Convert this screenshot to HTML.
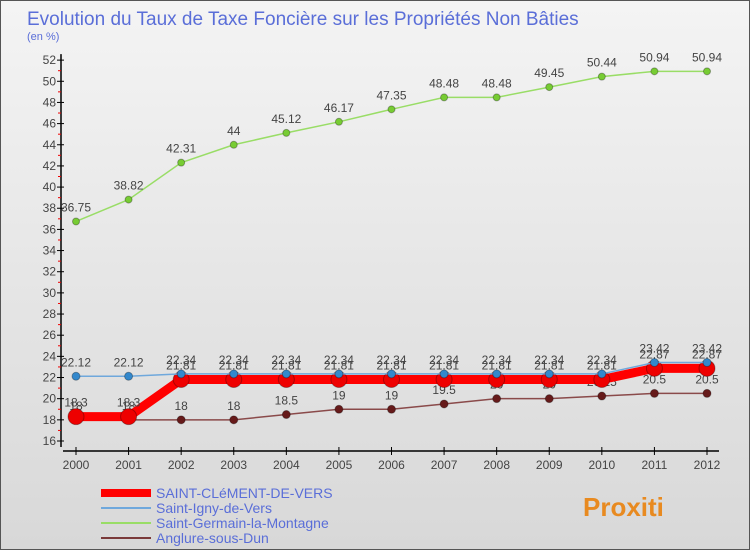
<!DOCTYPE html>
<html><head><meta charset="utf-8"><style>
body{margin:0}
#c{width:750px;height:550px;position:relative;background:linear-gradient(180deg,#f4f4f4,#d8d8d8);font-family:"Liberation Sans",sans-serif;overflow:hidden;border:1px solid #555;box-sizing:border-box}
</style></head><body>
<div id="c">
<svg id="s" width="750" height="550" style="position:absolute;left:0;top:0">
<text x="26" y="24" font-size="19" fill="#5a6ed8">Evolution du Taux de Taxe Foncière sur les Propriétés Non Bâties</text>
<text x="26" y="39" font-size="11" fill="#5a6ed8">(en %)</text>
</svg>
</div>
<script>
const years=[2000,2001,2002,2003,2004,2005,2006,2007,2008,2009,2010,2011,2012];
const yTicks=[16,18,20,22,24,26,28,30,32,34,36,38,40,42,44,46,48,50,52];
const sClement=[18.3,18.3,21.81,21.81,21.81,21.81,21.81,21.81,21.81,21.81,21.81,22.87,22.87];
const sIgny=[22.12,22.12,22.34,22.34,22.34,22.34,22.34,22.34,22.34,22.34,22.34,23.42,23.42];
const sGermain=[36.75,38.82,42.31,44,45.12,46.17,47.35,48.48,48.48,49.45,50.44,50.94,50.94];
const sAnglure=[18,18,18,18,18.5,19,19,19.5,20,20,20.25,20.5,20.5];
const names=["SAINT-CLéMENT-DE-VERS","Saint-Igny-de-Vers","Saint-Germain-la-Montagne","Anglure-sous-Dun"];
const NS="http://www.w3.org/2000/svg",svg=document.getElementById('s');
const X=y=>75+(y-2000)*(631/12);
const Y=v=>440-(v-16)*10.58;
function el(t,a,p){const e=document.createElementNS(NS,t);for(const k in a)e.setAttribute(k,a[k]);(p||svg).appendChild(e);return e;}
let ax=el('line',{x1:60,y1:Y(16)+6,x2:60,y2:Y(52)-6,stroke:'#000','stroke-width':1.5});

for(let v=16;v<=52;v++){if(v%2){const t=el('line',{x1:57,x2:60,y1:Y(v),y2:Y(v),stroke:'#e00'});}}
yTicks.forEach(v=>{const t=el('line',{x1:56,x2:63,y1:Y(v),y2:Y(v),stroke:'#000'});
const l=el('text',{x:55,y:Y(v)+4,'text-anchor':'end','font-size':12,fill:'#444'});l.textContent=v;});
let xa=el('line',{x1:62,x2:718,y1:450,y2:450,stroke:'#000','stroke-width':1.5});

years.forEach(y=>{const t=el('line',{x1:X(y),x2:X(y),y1:446,y2:454,stroke:'#000'});
const l=el('text',{x:X(y),y:468,'text-anchor':'middle','font-size':12,fill:'#444'});l.textContent=y;});
function series(data,color,w,r,name,fill){
 const g=el('g',{});
 el('polyline',{points:data.map((v,i)=>X(years[i])+','+Y(v)).join(' '),fill:'none',stroke:color,'stroke-width':w},g);
 data.forEach((v,i)=>{const c=el('circle',{cx:X(years[i]),cy:Y(v),r:r,fill:fill,stroke:'rgba(0,0,0,0.3)'},g);
 const t=el('text',{x:X(years[i]),y:Y(v)-10,'text-anchor':'middle','font-size':12,fill:'#444'},g);t.textContent=v;});
}
series(sGermain,'#99dd66',1.5,3.5,'series-saint-germain','#77cc33');
series(sAnglure,'#8a4a4a',1.5,4,'series-anglure','#661a1a');
series(sClement,'#ff0000',9,8,'series-saint-clement','#ee0000');
series(sIgny,'#6fa8dc',1.5,4,'series-saint-igny','#3388cc');
const lc=['#ff0000','#6fa8dc','#99dd66','#7a3a3a'],lw=[8,2,2,2];
names.forEach((n,i)=>{const y=492+i*15;const g=el('g',{});
el('line',{x1:100,x2:150,y1:y,y2:y,stroke:lc[i],'stroke-width':lw[i]},g);
const t=el('text',{x:155,y:y+5,'font-size':14,fill:'#5a6ed8'},g);t.textContent=n;});
const lg=el('text',{x:582,y:515,'font-size':26,'font-weight':'bold',fill:'#e88a20'});lg.textContent='Proxiti';

</script>
</body></html>
